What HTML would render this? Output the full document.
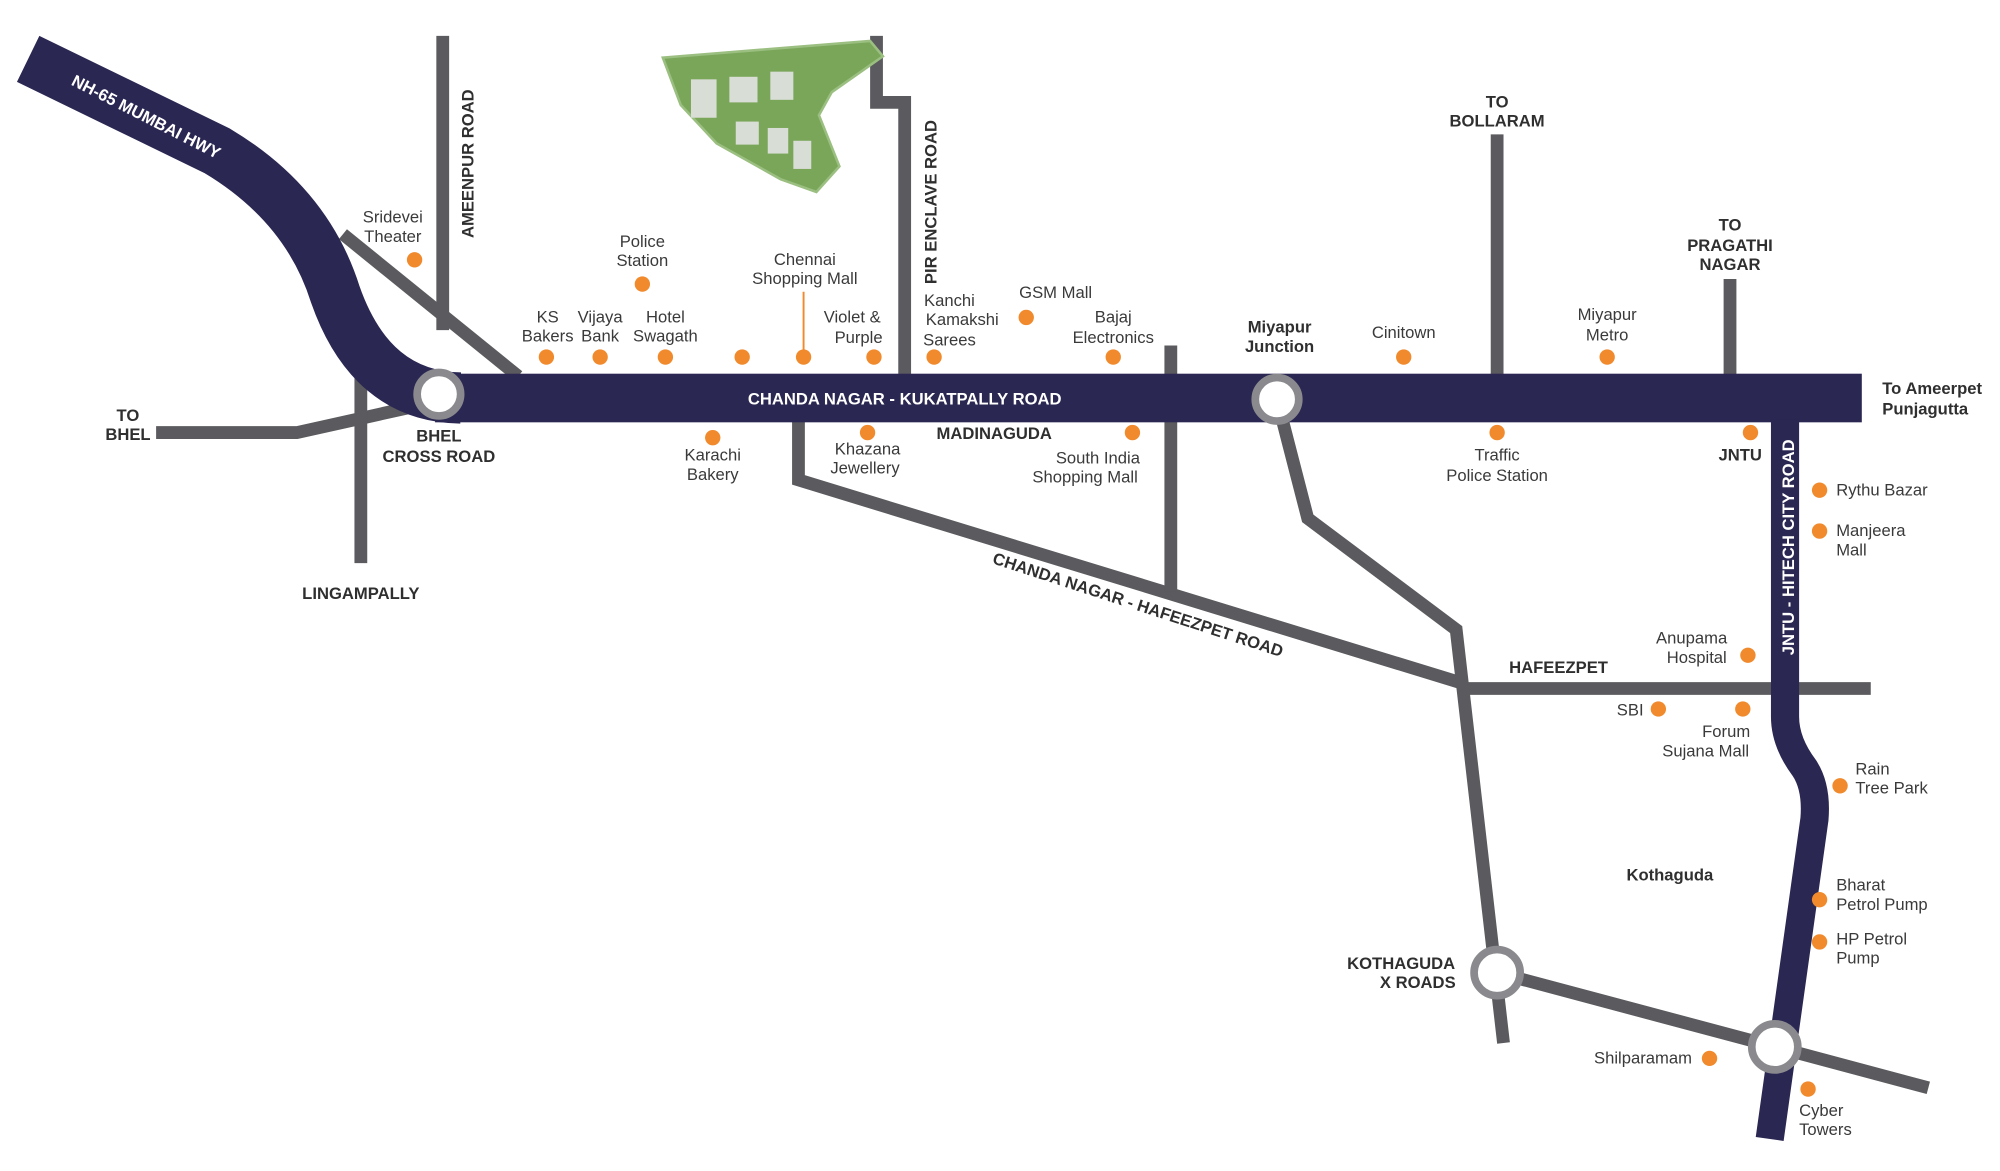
<!DOCTYPE html>
<html><head><meta charset="utf-8"><style>
html,body{margin:0;padding:0;background:#fff;}
svg{display:block}
text{font-family:"Liberation Sans",sans-serif;fill:#3a3a3a;font-size:13px}
.b{font-weight:bold;fill:#2f2f2f}
.w{fill:#fff;font-weight:bold}
</style></head><body>
<svg width="2000" height="1171" viewBox="0 0 1563 915" preserveAspectRatio="none" xmlns="http://www.w3.org/2000/svg">
<rect width="1563" height="915" fill="#fff"/>
<g stroke="#5b5b5f" stroke-width="10" fill="none" stroke-linejoin="miter">
<line x1="346" y1="28" x2="346" y2="258"/>
<line x1="268" y1="183" x2="405" y2="294"/>
<polyline points="122,338 232,338 322,318"/>
<line x1="282" y1="290" x2="282" y2="440"/>
<polyline points="685,28 685,80 707,80 707,294"/>
<polyline points="624,328 624,375 1140,533"/>
<line x1="1140" y1="538" x2="1462" y2="538"/>
<line x1="915" y1="270" x2="915" y2="462"/>
<polyline points="998,312 1022,405 1138,492 1175,815"/>
<line x1="1170" y1="105" x2="1170" y2="294"/>
<line x1="1352" y1="218" x2="1352" y2="294"/>
<line x1="1170" y1="760" x2="1507" y2="850"/>
</g>
<path d="M22,46 L170,118 Q240,160 262,230 Q290,310 360,311" stroke="#2a2752" stroke-width="40" fill="none"/>
<rect x="340" y="292" width="1115" height="38" fill="#2a2752"/>
<path d="M1395,328 L1395,560 Q1395,580 1410,600 Q1420,615 1418,640 L1383,890" stroke="#2a2752" stroke-width="22" fill="none"/>
<g fill="#fff" stroke="#8a8a8e" stroke-width="6">
<circle cx="343" cy="308" r="17"/><circle cx="998" cy="312" r="17"/>
<circle cx="1170" cy="760" r="18"/><circle cx="1387" cy="818" r="18"/>
</g>
<path d="M518,45 L680,32 L690,44 L650,72 L640,90 L656,130 L638,150 L610,140 L560,112 L532,82 Z" fill="#7aa65a" stroke="#9bbf80" stroke-width="2"/>
<g fill="#d8ddd5"><rect x="540" y="62" width="20" height="30"/><rect x="570" y="60" width="22" height="20"/><rect x="602" y="56" width="18" height="22"/><rect x="575" y="95" width="18" height="18"/><rect x="600" y="100" width="16" height="20"/><rect x="620" y="110" width="14" height="22"/></g>
<line x1="628" y1="228" x2="628" y2="278" stroke="#f08a2c" stroke-width="1.5"/>
<g fill="#f08a2c">
<circle cx="324" cy="203" r="6"/><circle cx="502" cy="222" r="6"/><circle cx="427" cy="279" r="6"/><circle cx="469" cy="279" r="6"/><circle cx="520" cy="279" r="6"/><circle cx="580" cy="279" r="6"/><circle cx="628" cy="279" r="6"/><circle cx="683" cy="279" r="6"/><circle cx="730" cy="279" r="6"/><circle cx="802" cy="248" r="6"/><circle cx="870" cy="279" r="6"/><circle cx="1097" cy="279" r="6"/><circle cx="1256" cy="279" r="6"/>
<circle cx="557" cy="342" r="6"/><circle cx="678" cy="338" r="6"/><circle cx="885" cy="338" r="6"/><circle cx="1170" cy="338" r="6"/><circle cx="1368" cy="338" r="6"/>
<circle cx="1422" cy="383" r="6"/><circle cx="1422" cy="415" r="6"/><circle cx="1366" cy="512" r="6"/><circle cx="1296" cy="554" r="6"/><circle cx="1362" cy="554" r="6"/><circle cx="1438" cy="614" r="6"/><circle cx="1422" cy="703" r="6"/><circle cx="1422" cy="736" r="6"/><circle cx="1336" cy="827" r="6"/><circle cx="1413" cy="851" r="6"/>
</g>
<text class="w" transform="translate(55,66) rotate(27)" font-size="13">NH-65 MUMBAI HWY</text>
<text class="w" x="707" y="316" text-anchor="middle" font-size="13">CHANDA NAGAR - KUKATPALLY ROAD</text>
<text class="b" transform="translate(370,186) rotate(-90)" font-size="13">AMEENPUR ROAD</text>
<text class="b" transform="translate(732,222) rotate(-90)" font-size="13">PIR ENCLAVE ROAD</text>
<text class="w" transform="translate(1402,512) rotate(-90)" font-size="13">JNTU - HITECH CITY ROAD</text>
<text class="b" transform="translate(775,440) rotate(18)" font-size="13">CHANDA NAGAR - HAFEEZPET ROAD</text>
<g text-anchor="middle">
<text x="307" y="174">Sridevei</text><text x="307" y="189">Theater</text>
<text x="502" y="193">Police</text><text x="502" y="208">Station</text>
<text x="629" y="207">Chennai</text><text x="629" y="222">Shopping Mall</text>
<text x="428" y="252">KS</text><text x="428" y="267">Bakers</text>
<text x="469" y="252">Vijaya</text><text x="469" y="267">Bank</text>
<text x="520" y="252">Hotel</text><text x="520" y="267">Swagath</text>
<text x="666" y="252">Violet &amp;</text><text x="671" y="268">Purple</text>
<text x="742" y="239">Kanchi</text><text x="752" y="254">Kamakshi</text><text x="742" y="270">Sarees</text>
<text x="825" y="233">GSM Mall</text>
<text x="870" y="252">Bajaj</text><text x="870" y="268">Electronics</text>
<text class="b" x="1000" y="260">Miyapur</text><text class="b" x="1000" y="275">Junction</text>
<text x="1097" y="264">Cinitown</text>
<text x="1256" y="250">Miyapur</text><text x="1256" y="266">Metro</text>
<text class="b" x="1170" y="84">TO</text><text class="b" x="1170" y="99">BOLLARAM</text>
<text class="b" x="1352" y="180">TO</text><text class="b" x="1352" y="196">PRAGATHI</text><text class="b" x="1352" y="211">NAGAR</text>
<text class="b" x="100" y="329">TO</text><text class="b" x="100" y="344">BHEL</text>
<text class="b" x="343" y="345">BHEL</text><text class="b" x="343" y="361">CROSS ROAD</text>
<text class="b" x="282" y="468">LINGAMPALLY</text>
<text x="557" y="360">Karachi</text><text x="557" y="375">Bakery</text>
<text x="678" y="355">Khazana</text><text x="676" y="370">Jewellery</text>
<text class="b" x="777" y="343">MADINAGUDA</text>
<text x="858" y="362">South India</text><text x="848" y="377">Shopping Mall</text>
<text x="1170" y="360">Traffic</text><text x="1170" y="376">Police Station</text>
<text class="b" x="1360" y="360">JNTU</text>
<text class="b" x="1218" y="526">HAFEEZPET</text>
<text x="1322" y="503">Anupama</text><text x="1326" y="518">Hospital</text>
<text x="1274" y="559">SBI</text>
<text x="1349" y="576">Forum</text><text x="1333" y="591">Sujana Mall</text>
<text class="b" x="1305" y="688">Kothaguda</text>
<text class="b" x="1095" y="757">KOTHAGUDA</text><text class="b" x="1108" y="772">X ROADS</text>
<text x="1284" y="831">Shilparamam</text>
</g>
<g>
<text class="b" x="1471" y="308">To Ameerpet</text><text class="b" x="1471" y="324">Punjagutta</text>
<text x="1435" y="387">Rythu Bazar</text>
<text x="1435" y="419">Manjeera</text><text x="1435" y="434">Mall</text>
<text x="1450" y="605">Rain</text><text x="1450" y="620">Tree Park</text>
<text x="1435" y="696">Bharat</text><text x="1435" y="711">Petrol Pump</text>
<text x="1435" y="738">HP Petrol</text><text x="1435" y="753">Pump</text>
<text x="1406" y="872">Cyber</text><text x="1406" y="887">Towers</text>
</g>
</svg>
</body></html>
